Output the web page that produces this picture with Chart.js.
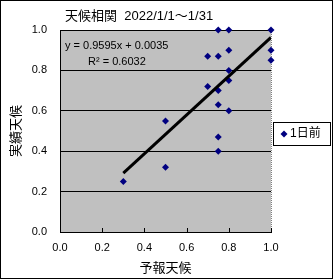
<!DOCTYPE html>
<html>
<head>
<meta charset="utf-8">
<script src="https://cdn.jsdelivr.net/npm/chart.js@4.4.0/dist/chart.umd.min.js"></script>
<style>
  html, body { margin: 0; padding: 0; background: #fff; }
  #wrap { width: 333px; height: 279px; }
</style>
</head>
<body>
<div id="wrap"><canvas id="myChart" width="333" height="279"></canvas></div>
<script>
// forecast vs actual, Jan 2022
const forecast = [0.3, 0.5, 0.5, 0.7, 0.7, 0.75, 0.75, 0.75, 0.75, 0.75, 0.75, 0.8, 0.8, 0.8, 0.8, 0.8, 1.0, 1.0, 1.0];
const actual   = [0.25, 0.32, 0.55, 0.72, 0.87, 0.40, 0.47, 0.63, 0.70, 0.87, 1.0, 0.60, 0.75, 0.80, 0.90, 1.0, 0.85, 0.90, 1.0];
const slope = 0.9595;
const intercept = 0.0035;
const r2 = 0.6032;
const tickValues = [0, 0.2, 0.4, 0.6, 0.8, 1.0];

const FONT = '"Liberation Sans", "Noto Sans CJK JP", sans-serif';

const points = forecast.map((x, i) => ({ x: x, y: actual[i] }));
const trendX = [Math.min(...forecast), Math.max(...forecast)];
const trend = trendX.map(x => ({ x: x, y: slope * x + intercept }));

// extra drawing: background, frame, title, legend, equation
const decor = {
    id: 'decor',
    beforeDraw(chart) {
        const c = chart.ctx, a = chart.chartArea;
        c.save();
        c.fillStyle = '#c0c0c0';
        c.fillRect(a.left, a.top, a.right - a.left, a.bottom - a.top);
        // right edge dotted
        c.strokeStyle = '#808080';
        c.setLineDash([1, 1]);
        c.beginPath();
        c.moveTo(a.right + 0.5, a.top);
        c.lineTo(a.right + 0.5, a.bottom);
        c.stroke();
        c.restore();
    },
    afterDraw(chart) {
        const c = chart.ctx, a = chart.chartArea;
        c.save();
        // inner tick marks on x axis
        c.strokeStyle = '#000';
        c.lineWidth = 1;
        tickValues.forEach(v => {
            const px = Math.round(chart.scales.x.getPixelForValue(v)) + 0.5;
            c.beginPath();
            c.moveTo(px, a.bottom);
            c.lineTo(px, a.bottom - 4);
            c.stroke();
        });
        // title
        c.fillStyle = '#000';
        c.font = '13px ' + FONT;
        c.textBaseline = 'middle';
        c.textAlign = 'left';
        c.fillText('天候相関  2022/1/1〜1/31', 65, 16);
        // trend equation
        c.font = '11px ' + FONT;
        c.fillText('y = ' + slope + 'x + ' + intercept, 65, 46);
        c.fillText('R² = ' + r2, 88, 62);
        // legend
        const lx = 273, ly = 122, lw = 57, lh = 23;
        c.strokeStyle = '#000';
        c.strokeRect(lx + 0.5, ly + 0.5, lw, lh);
        c.fillStyle = '#000080';
        const cx = lx + 11, cy = ly + lh / 2 + 0.5;
        c.beginPath();
        c.moveTo(cx, cy - 3.5); c.lineTo(cx + 3.5, cy); c.lineTo(cx, cy + 3.5); c.lineTo(cx - 3.5, cy);
        c.closePath();
        c.fill();
        c.fillStyle = '#000';
        c.font = '12px ' + FONT;
        c.fillText(chart.data.datasets[0].label, lx + 17, cy);
        // outer frame
        c.strokeRect(0.5, 0.5, chart.width - 1, chart.height - 1);
        c.restore();
    }
};

const ctx = document.getElementById('myChart');

const myChart = new Chart(ctx, {
    type: 'scatter',
    data: {
        datasets: [{
            label: '1日前',
            data: points,
            pointStyle: 'rectRot',
            pointRadius: 3.5,
            backgroundColor: '#000080',
            borderColor: '#000080',
            borderWidth: 0,
            clip: false,
            order: 1
        }, {
            label: 'trend',
            type: 'line',
            data: trend,
            borderColor: '#000',
            borderWidth: 3,
            pointRadius: 0,
            fill: false,
            order: 0
        }]
    },
    options: {
        responsive: false,
        animation: false,
        events: [],
        layout: { padding: { left: 0, top: 30, right: 62, bottom: 0 } },
        plugins: {
            legend: { display: false },
            tooltip: { enabled: false }
        },
        scales: {
            x: {
                type: 'linear',
                min: 0, max: 1,
                afterFit(scale) { scale.height = 47; },
                afterBuildTicks(scale) { scale.ticks = tickValues.map(v => ({ value: v })); },
                grid: { display: false, drawTicks: false },
                border: { display: true, color: '#000', width: 1 },
                ticks: {
                    padding: 9,
                    color: '#000',
                    font: { family: FONT, size: 11 },
                    callback: v => Number(v).toFixed(1)
                },
                title: {
                    display: true,
                    text: '予報天候',
                    color: '#000',
                    font: { family: FONT, size: 13 },
                    padding: { top: 4, bottom: 3 }
                }
            },
            y: {
                type: 'linear',
                min: 0, max: 1,
                afterFit(scale) { scale.width = 60; },
                afterBuildTicks(scale) { scale.ticks = tickValues.map(v => ({ value: v })); },
                grid: { color: '#000', lineWidth: 1, drawTicks: false },
                border: { display: true, color: '#000', width: 1 },
                ticks: {
                    padding: 13,
                    color: '#000',
                    font: { family: FONT, size: 11 },
                    callback: v => Number(v).toFixed(1)
                },
                title: {
                    display: true,
                    text: '実績天候',
                    color: '#000',
                    font: { family: FONT, size: 13 },
                    padding: { top: 9, bottom: 3 }
                }
            }
        }
    },
    plugins: [decor]
});
</script>
</body>
</html>
